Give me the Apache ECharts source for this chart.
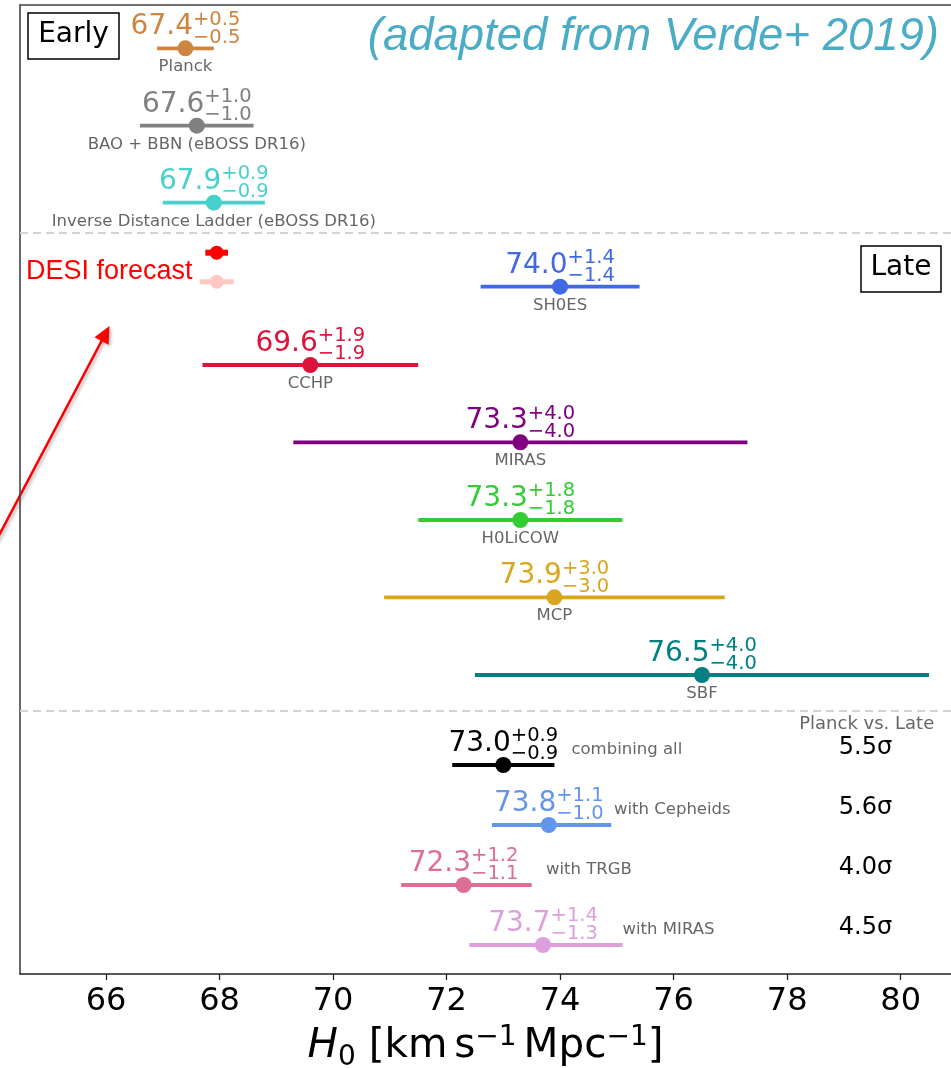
<!DOCTYPE html>
<html>
<head>
<meta charset="utf-8">
<script src="https://cdn.jsdelivr.net/npm/echarts@6/dist/echarts.min.js"></script>
<style>
  html, body { margin: 0; padding: 0; background: #fff; }
  #chart { width: 951px; height: 1068px; }
</style>
</head>
<body>
<div id="chart"></div>
<script>
// ---- H0 measurements (km/s/Mpc) ----
const rowNames = [
  'Planck', 'BAO + BBN (eBOSS DR16)', 'Inverse Distance Ladder (eBOSS DR16)',
  'SH0ES', 'CCHP', 'MIRAS', 'H0LiCOW', 'MCP', 'SBF',
  'combining all', 'with Cepheids', 'with TRGB', 'with MIRAS'
];
const h0Values = [67.4, 67.6, 67.9, 74.0, 69.6, 73.3, 73.3, 73.9, 76.5, 73.0, 73.8, 72.3, 73.7];
const errPlus  = [0.5, 1.0, 0.9, 1.4, 1.9, 4.0, 1.8, 3.0, 4.0, 0.9, 1.1, 1.2, 1.4];
const errMinus = [0.5, 1.0, 0.9, 1.4, 1.9, 4.0, 1.8, 3.0, 4.0, 0.9, 1.0, 1.1, 1.3];
// Planck vs. late-universe tension for the combined rows
const tensionLabels = ['5.5σ', '5.6σ', '4.0σ', '4.5σ'];
// DESI forecast points (central value, symmetric error)
const desiCentral = [67.95, 67.95];
const desiError = [0.2, 0.3];
const xTickValues = [66, 68, 70, 72, 74, 76, 78, 80];

// ---- styling / layout ----
const rowColors = ['#CD853F', '#808080', '#48D1CC', '#4169E1', '#DC143C', '#800080',
  '#32CD32', '#DAA520', '#008080', '#000000', '#6495ED', '#DB7093', '#DDA0DD'];
const desiColors = ['#FF0000', '#FFC9C2'];
// vertical placement of each row on the (pixel-like) row axis
const rowY = [43.3, 120.7, 197.7, 281.7, 360, 437.3, 515, 592.3, 670, 760, 820, 880, 940];
const desiRowY = [247.7, 276.7];
const separatorY = [227.7, 706];
const sideLabelX = [74.2, 74.95, 73.75, 75.1];
const tensionX = 79.38;
const X_MIN = 64.485, X_MAX = 80.887;

const FONT = '"DejaVu Sans"';
const MID = 0.32; // canvas "middle" baseline sits about this many em above the alphabetic one
const measureCtx = document.createElement('canvas').getContext('2d');
function measure(text, font) { measureCtx.font = font; return measureCtx.measureText(text).width; }
function textAt(text, x, baseline, size, fill, align, family, style) {
  return {
    type: 'text', x: x, y: baseline - MID * size,
    style: {
      text: text, fill: fill,
      font: (style || '') + ' ' + size + 'px ' + (family || FONT),
      align: align || 'left', verticalAlign: 'middle'
    }
  };
}

const MAIN_FS = 28, SCRIPT_FS = 19.5, NAME_FS = 16.5;

function renderRow(params, api) {
  const idx = api.value(4);
  const yv = api.value(3);
  const p = api.coord([api.value(0), yv]);
  const pl = api.coord([api.value(1), yv]);
  const ph = api.coord([api.value(2), yv]);
  const color = rowColors[idx];
  const children = [
    { type: 'line', shape: { x1: pl[0], y1: p[1], x2: ph[0], y2: p[1] }, style: { stroke: color, lineWidth: 3.8 } },
    { type: 'circle', shape: { cx: p[0], cy: p[1], r: 8 }, style: { fill: color } }
  ];
  const main = api.value(0).toFixed(1);
  const up = '+' + (api.value(2) - api.value(0)).toFixed(1);
  const dn = '\u2212' + (api.value(0) - api.value(1)).toFixed(1);
  const wMain = measure(main, MAIN_FS + 'px ' + FONT);
  const wScript = Math.max(measure(up, SCRIPT_FS + 'px ' + FONT), measure(dn, SCRIPT_FS + 'px ' + FONT));
  const x0 = p[0] - (wMain + wScript) / 2;
  children.push(textAt(main, x0, p[1] - 12.5, MAIN_FS, color));
  children.push(textAt(up, x0 + wMain, p[1] - 22.5, SCRIPT_FS, color));
  children.push(textAt(dn, x0 + wMain, p[1] - 4.5, SCRIPT_FS, color));
  if (idx < 9) {
    children.push(textAt(rowNames[idx], p[0], p[1] + 24, NAME_FS, '#666666', 'center'));
  } else {
    const k = idx - 9;
    const sx = api.coord([sideLabelX[k], yv])[0];
    children.push(textAt(rowNames[idx], sx, p[1] - 10, NAME_FS, '#666666', 'left'));
    const tx = api.coord([tensionX, yv])[0];
    children.push(textAt(tensionLabels[k], tx, p[1] - 10, 24, '#000000', 'center'));
  }
  return { type: 'group', children: children };
}

function renderDesi(params, api) {
  const idx = api.value(4);
  const yv = api.value(3);
  const p = api.coord([api.value(0), yv]);
  const pl = api.coord([api.value(1), yv]);
  const ph = api.coord([api.value(2), yv]);
  const color = desiColors[idx];
  return {
    type: 'group', children: [
      { type: 'line', shape: { x1: pl[0], y1: p[1], x2: ph[0], y2: p[1] }, style: { stroke: color, lineWidth: idx === 0 ? 6 : 5 } },
      { type: 'circle', shape: { cx: p[0], cy: p[1], r: 7 }, style: { fill: color } }
    ]
  };
}

const rowData = h0Values.map((v, i) => [v, v - errMinus[i], v + errPlus[i], rowY[i], i]);
const desiData = desiCentral.map((v, i) => [v, v - desiError[i], v + desiError[i], desiRowY[i], i]);

// axis title H0 [km s^-1 Mpc^-1], laid out piece by piece
function axisTitle(cx, baseline) {
  const big = 40.5, small = 28;
  const pieces = [
    { t: 'H', fs: big, dy: 0, st: 'italic' },
    { t: '0', fs: small, dy: 8 },
    { t: ' [km', fs: big, dy: 0 },
    { gap: 0.17 * big },
    { t: 's', fs: big, dy: 0 },
    { t: '\u22121', fs: small, dy: -12.5 },
    { gap: 0.17 * big },
    { t: 'Mpc', fs: big, dy: 0 },
    { t: '\u22121', fs: small, dy: -12.5 },
    { t: ']', fs: big, dy: 0 }
  ];
  let total = 0;
  pieces.forEach(pc => {
    pc.w = pc.gap !== undefined ? pc.gap : measure(pc.t, (pc.st || '') + ' ' + pc.fs + 'px ' + FONT);
    total += pc.w;
  });
  let x = cx - total / 2;
  const out = [];
  pieces.forEach(pc => {
    if (pc.t) out.push(textAt(pc.t, x, baseline + pc.dy, pc.fs, '#000', 'left', FONT, pc.st));
    x += pc.w;
  });
  return out;
}

// annotation arrow pointing at the DESI forecast
function arrow(x1, y1, x2, y2, color) {
  const dx = x2 - x1, dy = y2 - y1, len = Math.hypot(dx, dy);
  const ux = dx / len, uy = dy / len;
  const headL = 17, headW = 8;
  const bx = x2 - ux * headL, by = y2 - uy * headL;
  const shadow = { shadowBlur: 3, shadowOffsetX: 2, shadowOffsetY: 2, shadowColor: 'rgba(0,0,0,0.25)' };
  return [
    { type: 'line', shape: { x1: x1, y1: y1, x2: bx + ux * 2, y2: by + uy * 2 }, style: Object.assign({ stroke: color, lineWidth: 2.6 }, shadow) },
    { type: 'polygon', shape: { points: [[x2, y2], [bx - uy * headW, by + ux * headW], [bx + uy * headW, by - ux * headW]] }, style: Object.assign({ fill: color }, shadow) }
  ];
}

const chart = echarts.init(document.getElementById('chart'), null, { renderer: 'canvas' });
chart.setOption({
  animation: false,
  backgroundColor: '#ffffff',
  grid: { left: 20, right: 0, top: 5, bottom: 94 },
  xAxis: [
    {
      type: 'value', min: X_MIN, max: X_MAX, position: 'bottom',
      axisLine: { show: true, onZero: false, lineStyle: { color: '#222', width: 1.6 } },
      axisTick: { show: true, customValues: xTickValues, length: 6, lineStyle: { color: '#222', width: 1.3 } },
      axisLabel: { show: true, customValues: xTickValues, margin: 12, fontSize: 32, fontFamily: 'DejaVu Sans', color: '#000' },
      splitLine: { show: false }
    },
    {
      type: 'value', min: X_MIN, max: X_MAX, position: 'top',
      axisLine: { show: true, onZero: false, lineStyle: { color: '#444', width: 1.6 } },
      axisTick: { show: false }, axisLabel: { show: false }, splitLine: { show: false }
    }
  ],
  yAxis: {
    type: 'value', min: 0, max: 969, inverse: true,
    axisLine: { show: true, onZero: false, lineStyle: { color: '#444', width: 1.6 } },
    axisTick: { show: false }, axisLabel: { show: false }, splitLine: { show: false }
  },
  series: [
    {
      type: 'custom', name: 'H0', data: rowData, renderItem: renderRow, z: 3,
      encode: { x: [0, 1, 2], y: 3 },
      markLine: {
        silent: true, symbol: 'none', label: { show: false },
        lineStyle: { color: '#d3d3d3', width: 2, type: [8, 5] },
        data: separatorY.map(v => ({ yAxis: v }))
      }
    },
    { type: 'custom', name: 'DESI', data: desiData, renderItem: renderDesi, z: 3, encode: { x: [0, 1, 2], y: 3 } }
  ],
  graphic: [
    // "Early" / "Late" tags
    { type: 'rect', shape: { x: 28, y: 13, width: 91, height: 46 }, style: { fill: '#fff', stroke: '#000', lineWidth: 1.5 } },
    textAt('Early', 73.5, 43.3, 28, '#000', 'center'),
    { type: 'rect', shape: { x: 861, y: 246, width: 80, height: 46 }, style: { fill: '#fff', stroke: '#000', lineWidth: 1.5 } },
    textAt('Late', 901, 276.7, 28, '#000', 'center'),
    // credit line
    textAt('(adapted from Verde+ 2019)', 939, 51.7, 45.5, '#4BACC6', 'right', '"Liberation Sans", Arial, sans-serif', 'italic'),
    // DESI annotation
    textAt('DESI forecast', 26, 280, 27, '#FF0000', 'left', '"Liberation Sans", Arial, sans-serif'),
    ...arrow(-4, 541, 109.5, 326, '#FF0000'),
    // tension column header
    textAt('Planck vs. Late', 866.7, 730, 18, '#666666', 'center'),
    ...axisTitle(485.5, 1059)
  ]
});
</script>
</body>
</html>
